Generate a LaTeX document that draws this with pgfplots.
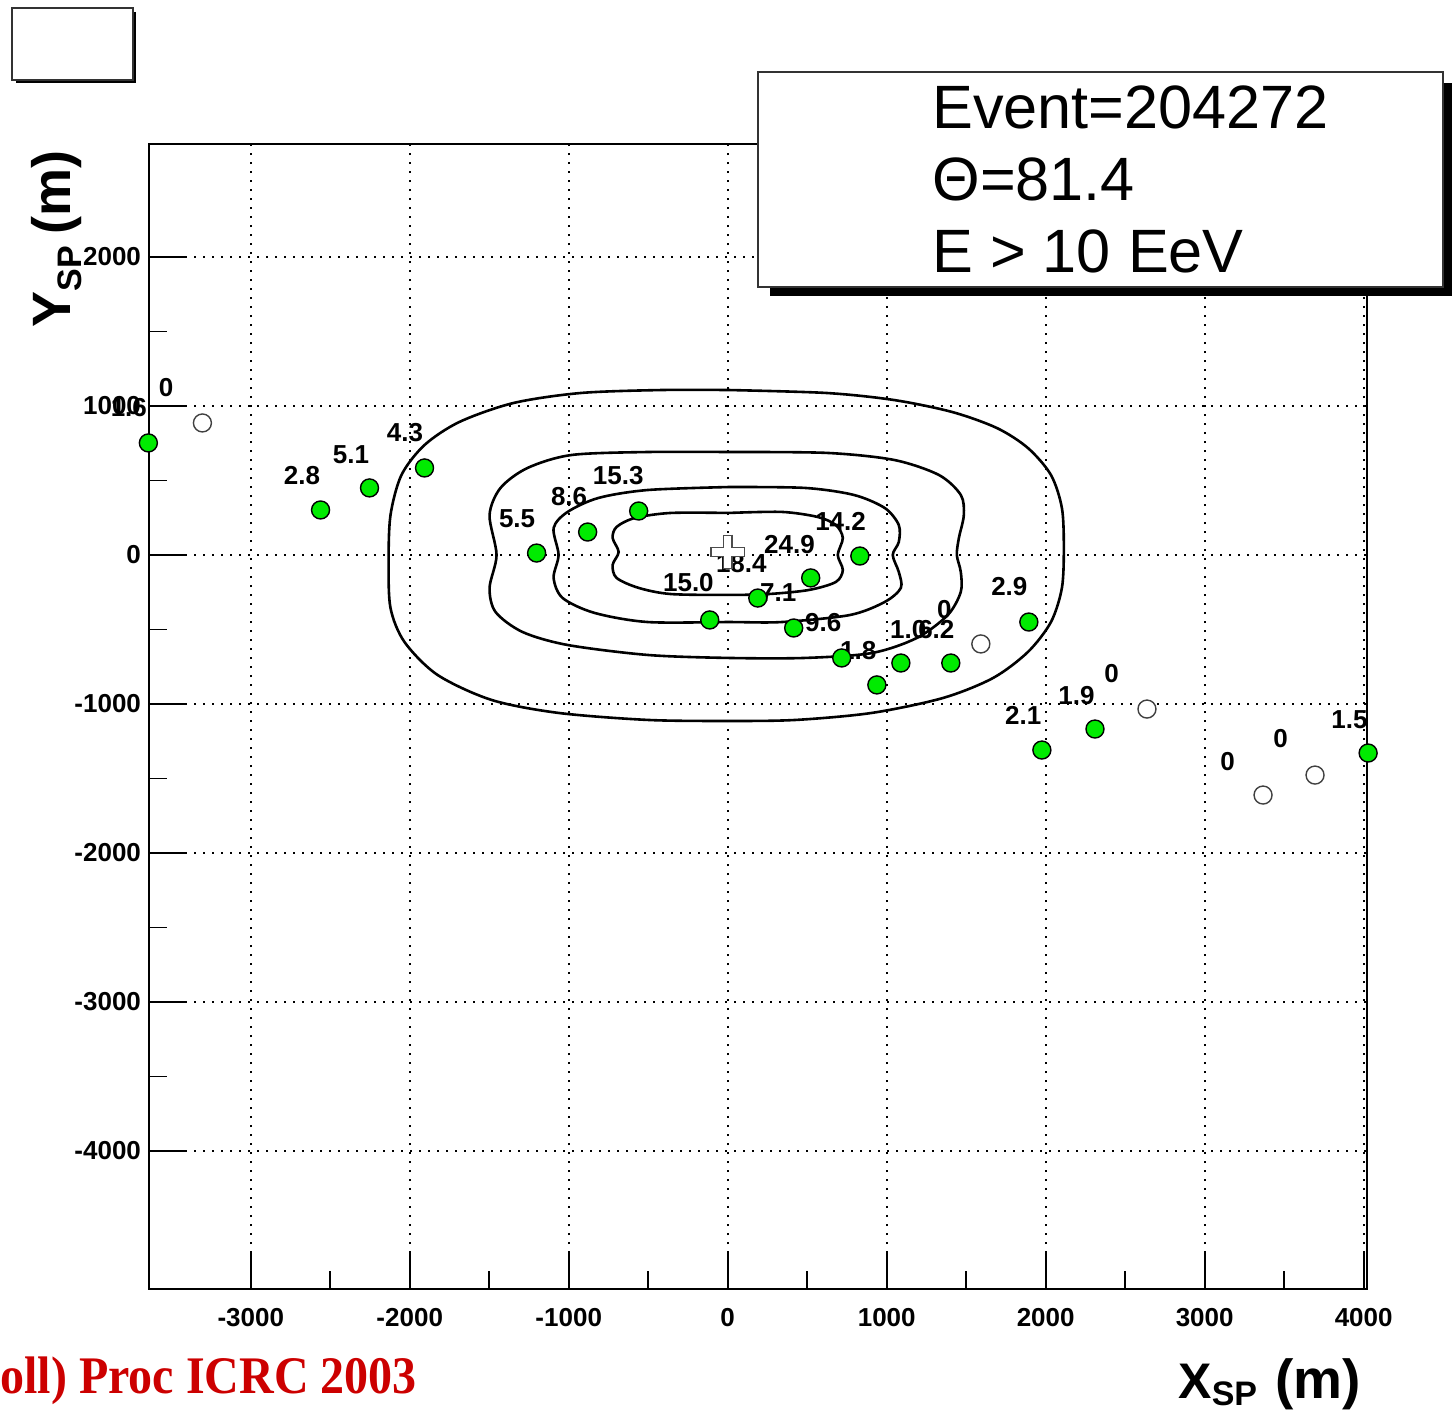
\documentclass[border=0pt]{standalone}
\usepackage{fontspec}
\setmainfont{Liberation Sans}
\newfontfamily\timesfont{Liberation Serif}
\usepackage{pgfplots}
\usepackage{pgfplotstable}
\pgfplotsset{compat=1.18}
\definecolor{ptgreen}{RGB}{0,235,0}
\definecolor{icrcred}{RGB}{204,0,0}
\tikzset{lab/.style={anchor=west, inner sep=0pt, font=\bfseries\fontsize{13}{15}\selectfont}}
\newcommand{\spsub}[1]{\raisebox{-#1}{\fontsize{17}{18}\selectfont SP}}

% stations with signal
\pgfplotstableread{
x y
-3644 752
-2561 302
-2253 450
-1907 584
-1202 13
-881 154
-560 295
831 -7
522 -154
189 -289
-113 -436
415 -490
717 -691
938 -872
1089 -725
1403 -725
1894 -450
1976 -1309
2310 -1168
4028 -1329
}\greenpts

% silent stations
\pgfplotstableread{
x y
-3304 886
1592 -597
2637 -1034
3367 -1611
3694 -1477
}\openpts

\begin{document}
\begin{tikzpicture}
\useasboundingbox (0,0) rectangle (727pt,-706.5pt);
\begin{axis}[
  at={(74.5pt,-644.5pt)}, anchor=south west,
  scale only axis, width=609pt, height=572.5pt,
  xmin=-3640, xmax=4021, ymin=-4926, ymax=2758,
  xtick={-3000,-2000,...,4000}, ytick={-4000,-3000,...,2000},
  minor tick num=1,
  tick pos=left, tick align=inside,
  major tick length=18pt, minor tick length=9pt,
  tick style={black, line width=0.9pt},
  grid=major,
  major grid style={black, line width=0.9pt, dash pattern=on 0.9pt off 3.6pt},
  axis line style={line width=1.3pt},
  scaled ticks=false,
  /pgf/number format/1000 sep={},
  /pgf/number format/assume math mode=true,
  ticklabel style={font=\bfseries\fontsize{13}{15}\selectfont},
  xticklabel style={yshift=-6pt},
  yticklabel style={xshift=-0.5pt},
  clip=false,
]
\addplot[only marks, mark=*, mark size=4.5pt,
  mark options={fill=ptgreen, draw=black, line width=0.7pt}] table {\greenpts};
\addplot[only marks, mark=*, mark size=4.5pt,
  mark options={fill=white, draw=black!75, line width=0.7pt}] table {\openpts};

% lateral distribution contours
\addplot[smooth, black, line width=1.3pt, mark=none] coordinates {
(6,1107) (623,1087) (1045,1040) (1410,960) (1693,852) (1888,718) (2033,537)
(2102,315) (2114,47) (2102,-221) (2033,-450) (1888,-651) (1668,-826)
(1353,-960) (906,-1060) (428,-1107) (6,-1114) (-503,-1107) (-1064,-1060)
(-1485,-973) (-1825,-805) (-2033,-584) (-2121,-356) (-2133,-47) (-2121,268)
(-2052,537) (-1907,738) (-1687,893) (-1347,1020) (-925,1087) (-415,1107)
(6,1107)};
\addplot[smooth, black, line width=1.3pt, mark=none] coordinates {
(6,691) (623,685) (1045,638) (1328,537) (1466,403) (1485,268) (1454,114)
(1441,0) (1466,-114) (1466,-248) (1384,-403) (1189,-557) (906,-658)
(485,-691) (6,-691) (-503,-671) (-1007,-604) (-1290,-517) (-1460,-383)
(-1498,-221) (-1454,0) (-1498,268) (-1429,450) (-1259,584) (-982,671)
(-503,691) (6,691)};
\addplot[smooth, black, line width=1.3pt, mark=none] coordinates {
(6,456) (485,450) (793,403) (988,315) (1076,201) (1076,87) (1038,0)
(1076,-114) (1089,-221) (988,-315) (768,-403) (340,-450) (6,-450)
(-503,-450) (-837,-389) (-1038,-289) (-1095,-154) (-1064,0) (-1095,181)
(-1007,289) (-812,383) (-503,436) (6,456)};
\addplot[smooth, black, line width=1.3pt, mark=none] coordinates {
(6,282) (340,289) (566,255) (680,201) (724,114) (692,0) (724,-101)
(680,-181) (510,-235) (258,-262) (6,-268) (-359,-262) (-560,-221)
(-699,-154) (-724,-67) (-686,20) (-724,114) (-699,188) (-585,248)
(-359,282) (6,282)};

% core position
\addplot[only marks, mark=+, mark size=8.7pt,
  mark options={draw=black!70, line width=5.2pt}] coordinates {(0,20)};
\addplot[only marks, mark=+, mark size=7.9pt,
  mark options={draw=white, line width=3.6pt}] coordinates {(0,20)};

% signals (VEM)
\node[lab] at (axis cs:-3581,1121) {0};
\node[lab] at (axis cs:-3883,987) {1.6};
\node[lab] at (axis cs:-2794,530) {2.8};
\node[lab] at (axis cs:-2486,671) {5.1};
\node[lab] at (axis cs:-2146,819) {4.3};
\node[lab] at (axis cs:-1441,242) {5.5};
\node[lab] at (axis cs:-1114,389) {8.6};
\node[lab] at (axis cs:-850,530) {15.3};
\node[lab] at (axis cs:548,228) {14.2};
\node[lab] at (axis cs:227,67) {24.9};
\node[lab] at (axis cs:-76,-60) {18.4};
\node[lab] at (axis cs:-409,-188) {15.0};
\node[lab] at (axis cs:201,-255) {7.1};
\node[lab] at (axis cs:485,-456) {9.6};
\node[lab] at (axis cs:705,-644) {1.8};
\node[lab] at (axis cs:1019,-503) {1.0};
\node[lab] at (axis cs:1196,-503) {6.2};
\node[lab] at (axis cs:1315,-369) {0};
\node[lab] at (axis cs:1655,-215) {2.9};
\node[lab] at (axis cs:1743,-1074) {2.1};
\node[lab] at (axis cs:2077,-940) {1.9};
\node[lab] at (axis cs:2366,-799) {0};
\node[lab] at (axis cs:3096,-1389) {0};
\node[lab] at (axis cs:3430,-1235) {0};
\node[lab] at (axis cs:3795,-1107) {1.5};
\end{axis}

% axis titles
\node[rotate=90, anchor=base west, inner sep=0pt,
  font=\bfseries\fontsize{27}{30}\selectfont] at (35pt,-164pt) {Y\spsub{5.5pt}\hspace{6pt}(m)};
\node[anchor=base west, inner sep=0pt,
  font=\bfseries\fontsize{25}{28}\selectfont] at (589pt,-699pt) {X\spsub{3.5pt}\hspace{9pt}{\fontsize{27.5}{30}\selectfont(m)}};

% empty pad box
\fill[black] (8pt,-6pt) rectangle (68pt,-41.5pt);
\draw[fill=white, line width=0.75pt, draw=black!80] (6pt,-4pt) rectangle (66.5pt,-40pt);

% event box
\fill[black] (385pt,-41.5pt) rectangle (726pt,-148pt);
\draw[fill=white, line width=0.75pt, draw=black!80] (379pt,-36pt) rectangle (721.5pt,-143.5pt);
\begin{scope}[every node/.style={anchor=base west, inner sep=0pt, font=\fontsize{30.6}{34}\selectfont}]
\node at (466pt,-64pt) {Event=204272};
\node at (466pt,-100pt) {Θ=81.4};
\node at (466pt,-136pt) {E > 10 EeV};
\end{scope}

\node[anchor=base west, inner sep=0pt, text=icrcred,
  font=\timesfont\bfseries\fontsize{24}{28}\selectfont] at (0pt,-696.5pt) {\scalebox{1}[1.1]{oll) Proc ICRC 2003}};
\end{tikzpicture}
\end{document}
